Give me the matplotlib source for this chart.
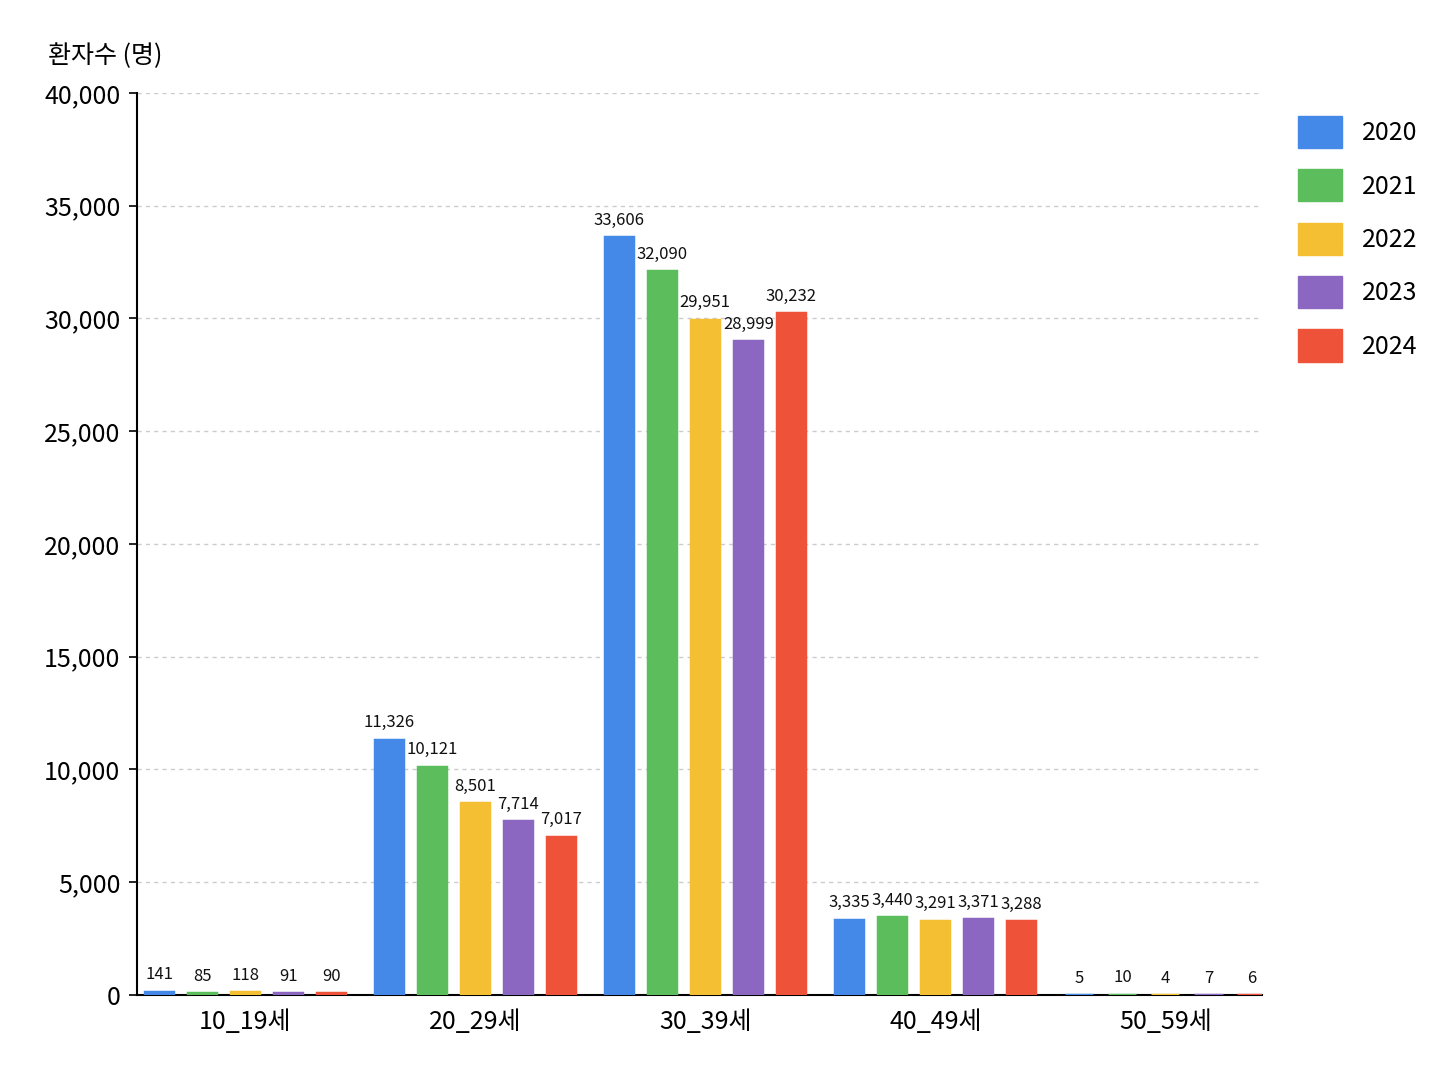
import matplotlib
matplotlib.use("Agg")
import matplotlib.pyplot as plt
import numpy as np
from matplotlib.patches import Patch

plt.rcParams['font.family'] = ['Noto Sans CJK KR', 'DejaVu Sans']

categories = ["10_19세", "20_29세", "30_39세", "40_49세", "50_59세"]
years = ["2020", "2021", "2022", "2023", "2024"]
v2020 = [141, 11326, 33606, 3335, 5]
v2021 = [85, 10121, 32090, 3440, 10]
v2022 = [118, 8501, 29951, 3291, 4]
v2023 = [91, 7714, 28999, 3371, 7]
v2024 = [90, 7017, 30232, 3288, 6]
series = [v2020, v2021, v2022, v2023, v2024]
colors = ["#4489E8", "#5CBD5C", "#F4BF33", "#8B67C2", "#EE5238"]

fig = plt.figure(figsize=(14.48, 10.86), dpi=100)
ax = fig.add_axes([0.0946, 0.0838, 0.777, 0.8306])

x = np.arange(len(categories))
step = 0.187
width = 0.122
for i, (vals, c) in enumerate(zip(series, colors)):
    pos = x + (i - 2) * step
    ax.bar(pos, vals, width=width, color=c, edgecolor=c, linewidth=2.5, zorder=3)
    for p, v in zip(pos, vals):
        ax.annotate(f"{v:,}", (p, v), xytext=(0, 6), textcoords="offset points",
                    ha="center", va="bottom", fontsize=12, color="#111111")

ax.set_xlim(-0.47, 4.42)
ax.set_ylim(0, 40000)
ax.set_yticks(np.arange(0, 40001, 5000))
ax.set_yticklabels([f"{t:,}" for t in range(0, 40001, 5000)], fontsize=18)
ax.set_xticks(x)
ax.set_xticklabels(categories, fontsize=18)
ax.tick_params(axis='x', length=0, pad=10)
ax.tick_params(axis='y', length=6, width=1.2, pad=6)
ax.grid(axis='y', linestyle=(0, (3, 3)), color="#cccccc", linewidth=1, zorder=0)
for s in ["top", "right"]:
    ax.spines[s].set_visible(False)
ax.spines["left"].set_linewidth(1.5)
ax.spines["bottom"].set_linewidth(1.5)

fig.text(0.033, 0.948, "환자수 (명)", fontsize=18, ha="left", va="center")

handles = [Patch(color=c, label=y) for c, y in zip(colors, years)]
fig.legend(handles=handles, loc="upper left", bbox_to_anchor=(0.881, 0.914),
           frameon=False, fontsize=18, handlelength=1.75, handleheight=1.6,
           labelspacing=0.85, handletextpad=0.8)

fig.savefig("out.png", dpi=100, facecolor="white")
